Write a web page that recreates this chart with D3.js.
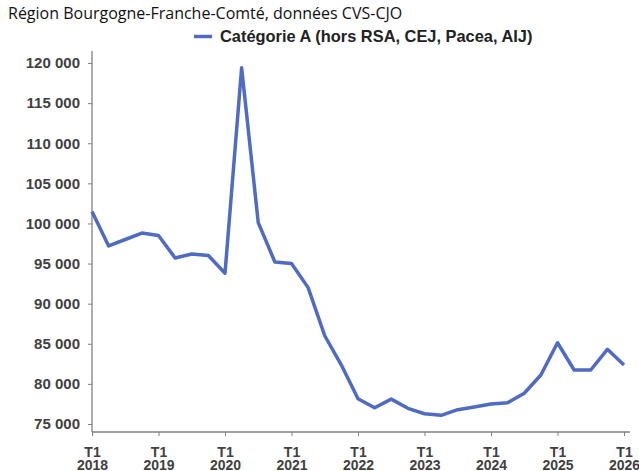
<!doctype html>
<html>
    <head>
        <meta charset="utf-8">
        <script src="https://cdn.jsdelivr.net/npm/d3@7"></script>
        <style>
            html, body { margin: 0; padding: 0; background: #fff; }
            #viz { position: absolute; top: 0; left: 0; width: 639px; height: 471px; }
            .tick text { font-family: "Liberation Sans", Arial, sans-serif; font-weight: bold; font-size: 15px; fill: #404040; }
            .xlab { font-size: 14px !important; }
        </style>
    </head>
    <body>
        <div id="viz"></div>
        <script>
            // quarters 2018 T1 .. 2026 T1
            var years = [2018, 2019, 2020, 2021, 2022, 2023, 2024, 2025, 2026];
            var values = [
                101500, 97200, 98000, 98800,
                98500, 95700, 96200, 96000,
                93800, 119400, 100100, 95200,
                95000, 92000, 86000, 82350,
                78150, 77030, 78100, 76950,
                76280, 76080, 76780, 77120,
                77490, 77650, 78830, 81110,
                85130, 81730, 81730, 84310,
                82350
            ];
            var yTicks = [75000, 80000, 85000, 90000, 95000, 100000, 105000, 110000, 115000, 120000];
            var title = "Région Bourgogne-Franche-Comté, données CVS-CJO";
            var seriesName = "Catégorie A (hors RSA, CEJ, Pacea, AIJ)";

            var drawChart = function () {
                var w = 639, h = 471;
                var mLeft = 92, mRight = 624, mTop = 51, mBottom = 432;

                var svg = d3.select("#viz").append("svg")
                    .attr("width", w)
                    .attr("height", h);

                var x = d3.scaleLinear().domain([0, values.length - 1]).range([mLeft, mRight]);
                var y = d3.scaleLinear().domain([74000, 121500]).range([mBottom, mTop]);

                var fmt = function (d) { return d3.format(",")(d).replace(/,/g, " "); };

                // y axis
                var yAxis = svg.append("g")
                    .attr("transform", "translate(" + mLeft + ",0)")
                    .call(d3.axisLeft(y).tickValues(yTicks).tickFormat(fmt).tickSize(4).tickPadding(8));
                yAxis.select(".domain").attr("d", "M0," + mTop + "V" + mBottom).attr("stroke", "#808080").attr("stroke-width", 1.3);
                yAxis.selectAll(".tick line").attr("stroke", "#808080");

                // x axis
                var xAxis = svg.append("g")
                    .attr("transform", "translate(0," + mBottom + ")")
                    .call(d3.axisBottom(x).tickValues(years.map(function (d, i) { return i * 4; })).tickSize(4).tickFormat(""));
                xAxis.select(".domain").attr("d", "M" + mLeft + ",0H630").attr("stroke", "#808080").attr("stroke-width", 1.3);
                xAxis.selectAll(".tick line").attr("stroke", "#808080");
                xAxis.selectAll(".tick").each(function (d, i) {
                    var t = d3.select(this).append("text")
                        .attr("class", "xlab")
                        .attr("text-anchor", "middle");
                    t.append("tspan").attr("x", 0).attr("y", 25).text("T1");
                    t.append("tspan").attr("x", 0).attr("y", 38).text(years[i]);
                });

                // line
                svg.append("path")
                    .datum(values)
                    .attr("fill", "none")
                    .attr("stroke", "#4f6bc2")
                    .attr("stroke-width", 3.5)
                    .attr("stroke-linejoin", "round")
                    .attr("d", d3.line()
                        .x(function (d, i) { return x(i); })
                        .y(function (d) { return y(d); }));

                // title
                svg.append("text")
                    .attr("x", 8)
                    .attr("y", 19)
                    .attr("font-family", "'Open Sans', sans-serif")
                    .attr("font-size", 16)
                    .attr("fill", "#111")
                    .text(title);

                // legend
                svg.append("line")
                    .attr("x1", 194).attr("x2", 212)
                    .attr("y1", 36.5).attr("y2", 36.5)
                    .attr("stroke", "#4f6bc2")
                    .attr("stroke-width", 3.5);
                svg.append("text")
                    .attr("x", 220)
                    .attr("y", 42)
                    .attr("font-family", "'Liberation Sans', Arial, sans-serif")
                    .attr("font-weight", "bold")
                    .attr("font-size", 16.4)
                    .attr("fill", "#222")
                    .text(seriesName);
            };

            drawChart();
        </script>
    </body>
</html>
